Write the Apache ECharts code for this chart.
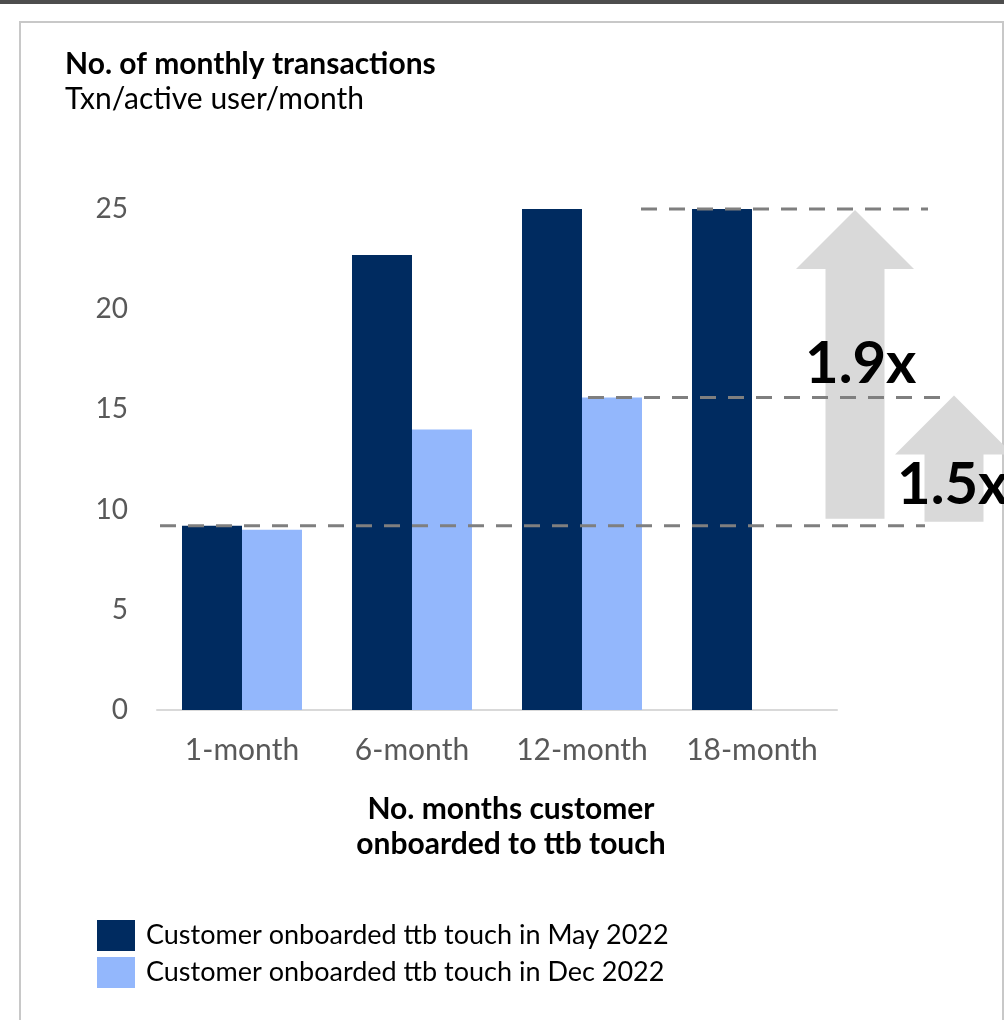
<!DOCTYPE html>
<html><head><meta charset="utf-8">
<script src="https://cdn.jsdelivr.net/npm/echarts@6/dist/echarts.min.js"></script>
<style>html,body{margin:0;padding:0;background:#fff}#c{width:1004px;height:1020px}</style>
</head><body><div id="c"></div>
<script>
const categories = ['1-month', '6-month', '12-month', '18-month'];
const may2022 = [9.2, 22.7, 25.0, 25.0];
const dec2022 = [9.0, 14.0, 15.6, null];
const seriesNames = ['Customer onboarded ttb touch in May 2022', 'Customer onboarded ttb touch in Dec 2022'];
const yTicks = [0, 5, 10, 15, 20, 25];
const multipliers = ['1.9x', '1.5x'];
const titleText = 'No. of monthly transactions';
const subText = 'Txn/active user/month';
const xAxisName = 'No. months customer\nonboarded to ttb touch';

const FONT = 'Lato';
const chart = echarts.init(document.getElementById('c'), null, {renderer: 'canvas'});

const option = {
  animation: false,
  backgroundColor: '#fff',
  textStyle: {fontFamily: FONT},
  title: {
    text: titleText, subtext: subText, left: 60, top: 44, itemGap: 5,
    textStyle: {fontFamily: FONT, fontWeight: 'bold', fontSize: 30, color: '#000'},
    subtextStyle: {fontFamily: FONT, fontSize: 30, color: '#000'}
  },
  legend: {
    orient: 'vertical', left: 92, top: 915, itemWidth: 38, itemHeight: 31, itemGap: 6,
    icon: 'rect',
    textStyle: {fontFamily: FONT, fontSize: 27, color: '#000', padding: [0, 0, 0, 6]},
    data: seriesNames
  },
  grid: {left: 157, right: 167, top: 209, bottom: 310, containLabel: false},
  xAxis: {
    type: 'category', data: categories,
    axisLine: {lineStyle: {color: '#d9d9d9', width: 2}},
    axisTick: {show: false},
    axisLabel: {fontFamily: FONT, fontSize: 30, color: '#595959', margin: 25, interval: 0},
    name: xAxisName, nameLocation: 'middle', nameGap: 82,
    nameTextStyle: {fontFamily: FONT, fontWeight: 'bold', fontSize: 30, color: '#000', lineHeight: 35,
      padding: [0, 0, 0, 28]}
  },
  yAxis: {
    type: 'value', min: yTicks[0], max: yTicks[yTicks.length - 1], interval: yTicks[1] - yTicks[0],
    axisLine: {show: false}, axisTick: {show: false}, splitLine: {show: false},
    axisLabel: {fontFamily: FONT, fontSize: 28, color: '#595959', margin: 29}
  },
  series: [
    {name: seriesNames[0], type: 'bar', data: may2022, barWidth: 60, barGap: '0%',
     itemStyle: {color: '#002B60'}},
    {name: seriesNames[1], type: 'bar', data: dec2022, barWidth: 60, barGap: '0%',
     itemStyle: {color: '#93B7FC'}}
  ]
};
chart.setOption(option);

const yBase = chart.convertToPixel({yAxisIndex: 0}, may2022[0]);
const yMid = chart.convertToPixel({yAxisIndex: 0}, dec2022[2]);
const yTop = chart.convertToPixel({yAxisIndex: 0}, may2022[3]);

function dash(x1, x2, y) {
  return {type: 'line', z: 50, silent: true,
    shape: {x1: x1, y1: y, x2: x2, y2: y},
    style: {stroke: '#7F7F7F', lineWidth: 3, lineDash: [16, 12]}};
}
function arrow(cx, tipY, headW, shaftW, headH, bottomY) {
  return {type: 'polygon', z: 40, silent: true,
    shape: {points: [
      [cx, tipY], [cx + headW / 2, tipY + headH], [cx + shaftW / 2, tipY + headH],
      [cx + shaftW / 2, bottomY], [cx - shaftW / 2, bottomY], [cx - shaftW / 2, tipY + headH],
      [cx - headW / 2, tipY + headH]]},
    style: {fill: '#D9D9D9'}};
}

chart.setOption({
  graphic: [
    {type: 'rect', z: 1, silent: true, shape: {x: 0, y: 0, width: 1004, height: 4}, style: {fill: '#4D4D4D'}},
    {type: 'rect', z: 1, silent: true, shape: {x: 20, y: 22, width: 983, height: 1010},
     style: {fill: 'none', stroke: '#C8C8C8', lineWidth: 2}},
    arrow(855, yTop + 1, 118, 59, 59, yBase - 7),
    arrow(954, yMid - 2, 118, 59, 59, yBase - 4),
    dash(641, 928, yTop),
    dash(588, 941, yMid),
    dash(160, 925, yBase),
    {type: 'text', z: 60, silent: true, x: 805, y: 364,
     style: {text: multipliers[0], font: 'bold 58px ' + FONT, fill: '#000', verticalAlign: 'middle'}},
    {type: 'text', z: 60, silent: true, x: 897, y: 485,
     style: {text: multipliers[1], font: 'bold 58px ' + FONT, fill: '#000', verticalAlign: 'middle'}}
  ]
});
</script></body></html>
